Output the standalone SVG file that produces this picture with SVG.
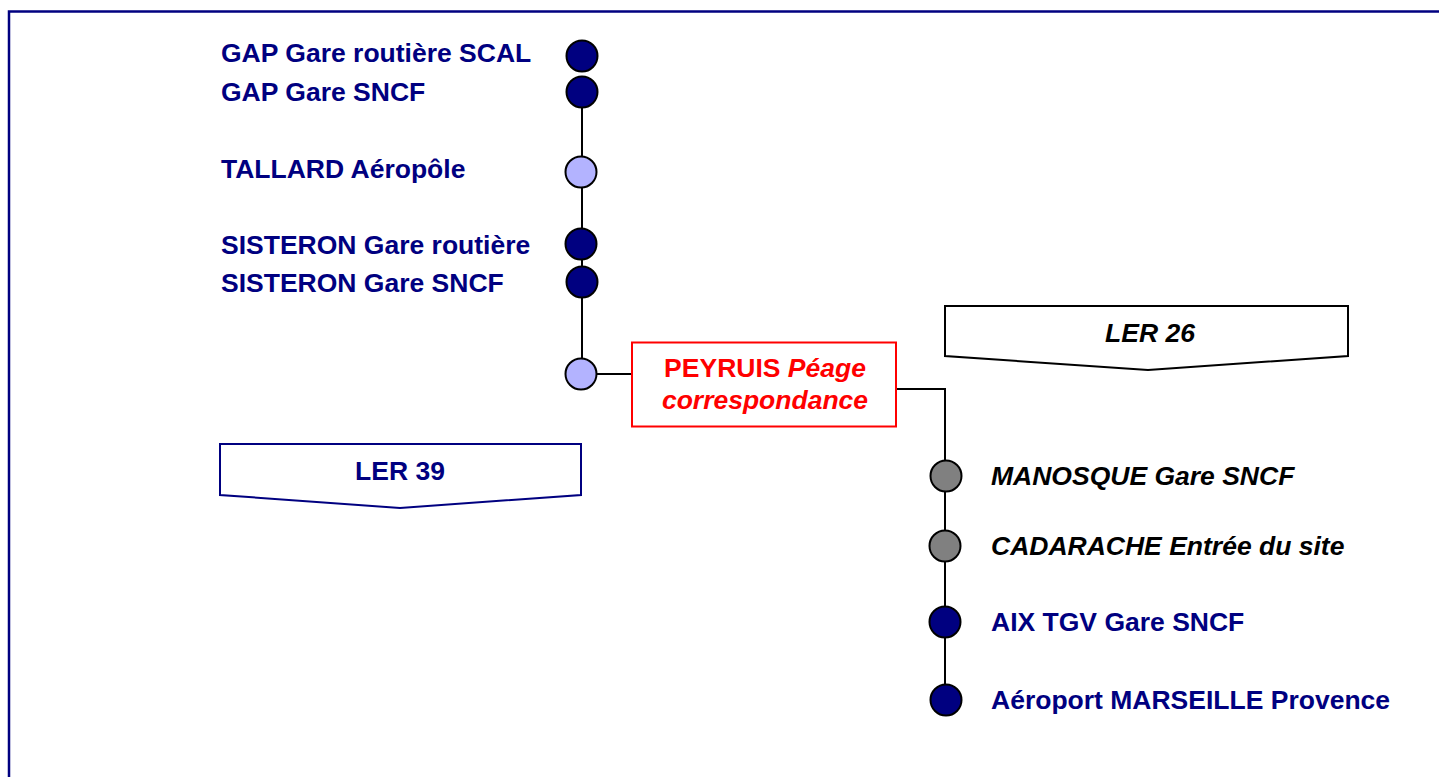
<svg xmlns="http://www.w3.org/2000/svg" width="1439" height="777" viewBox="0 0 1439 777">
<defs>
<style>
.bg{fill:#ffffff}
.frame{fill:none;stroke:#000080;stroke-width:2.5}
.line{fill:none;stroke:#000000;stroke-width:2}
.st{stroke:#000000;stroke-width:2}
.dark{fill:#000080}
.light{fill:#b3b3ff}
.grey{fill:#808080}
.lbl{font-family:"Liberation Sans",Arial,sans-serif;font-size:26.5px;font-weight:bold}
.navy{fill:#000080}
.blk{fill:#000000;font-style:italic}
.red{fill:#ff0000}
</style>
</defs>
<rect class="bg" x="0" y="0" width="1439" height="777"/>
<path class="frame" d="M9,777 V11.5 H1439"/>
<g id="connectors">
<path class="line" d="M582,92 V374"/>
<path class="line" d="M597,374 H632"/>
<path class="line" d="M896,389 H945 V700"/>
</g>
<g id="n-gap-scal"><circle class="st dark" cx="582" cy="56" r="15.5"/><text class="lbl navy" x="221" y="62">GAP Gare routière SCAL</text></g>
<g id="n-gap-sncf"><circle class="st dark" cx="582" cy="92" r="15.5"/><text class="lbl navy" x="221" y="101">GAP Gare SNCF</text></g>
<g id="n-tallard"><circle class="st light" cx="581" cy="172" r="15.5"/><text class="lbl navy" x="221" y="178">TALLARD Aéropôle</text></g>
<g id="n-sisteron-routiere"><circle class="st dark" cx="581" cy="244" r="15.5"/><text class="lbl navy" x="221" y="254">SISTERON Gare routière</text></g>
<g id="n-sisteron-sncf"><circle class="st dark" cx="582" cy="282" r="15.5"/><text class="lbl navy" x="221" y="292">SISTERON Gare SNCF</text></g>
<g id="n-peyruis-dot"><circle class="st light" cx="581" cy="374" r="15.5"/></g>
<g id="n-peyruis">
<rect x="632" y="342.5" width="264" height="84" fill="#ffffff" stroke="#ff0000" stroke-width="2"/>
<text class="lbl red" text-anchor="middle" x="765" y="377">PEYRUIS <tspan font-style="italic">Péage</tspan></text>
<text class="lbl red" text-anchor="middle" x="765" y="409" font-style="italic">correspondance</text>
</g>
<g id="n-ler26">
<path d="M945,306 H1348 V356 L1148,370 L945,356 Z" fill="#ffffff" stroke="#000000" stroke-width="2"/>
<text class="lbl blk" text-anchor="middle" x="1150" y="342">LER 26</text>
</g>
<g id="n-ler39">
<path d="M220,444 H581 V495 L400,508 L220,495 Z" fill="#ffffff" stroke="#000080" stroke-width="2"/>
<text class="lbl navy" text-anchor="middle" x="400" y="480">LER 39</text>
</g>
<g id="n-manosque"><circle class="st grey" cx="946" cy="476" r="15.5"/><text class="lbl blk" x="991" y="485">MANOSQUE Gare SNCF</text></g>
<g id="n-cadarache"><circle class="st grey" cx="945" cy="546" r="15.5"/><text class="lbl blk" x="991" y="555">CADARACHE Entrée du site</text></g>
<g id="n-aix"><circle class="st dark" cx="945" cy="622" r="15.5"/><text class="lbl navy" x="991" y="631">AIX TGV Gare SNCF</text></g>
<g id="n-marseille"><circle class="st dark" cx="946" cy="700" r="15.5"/><text class="lbl navy" x="991" y="709">Aéroport MARSEILLE Provence</text></g>
</svg>
